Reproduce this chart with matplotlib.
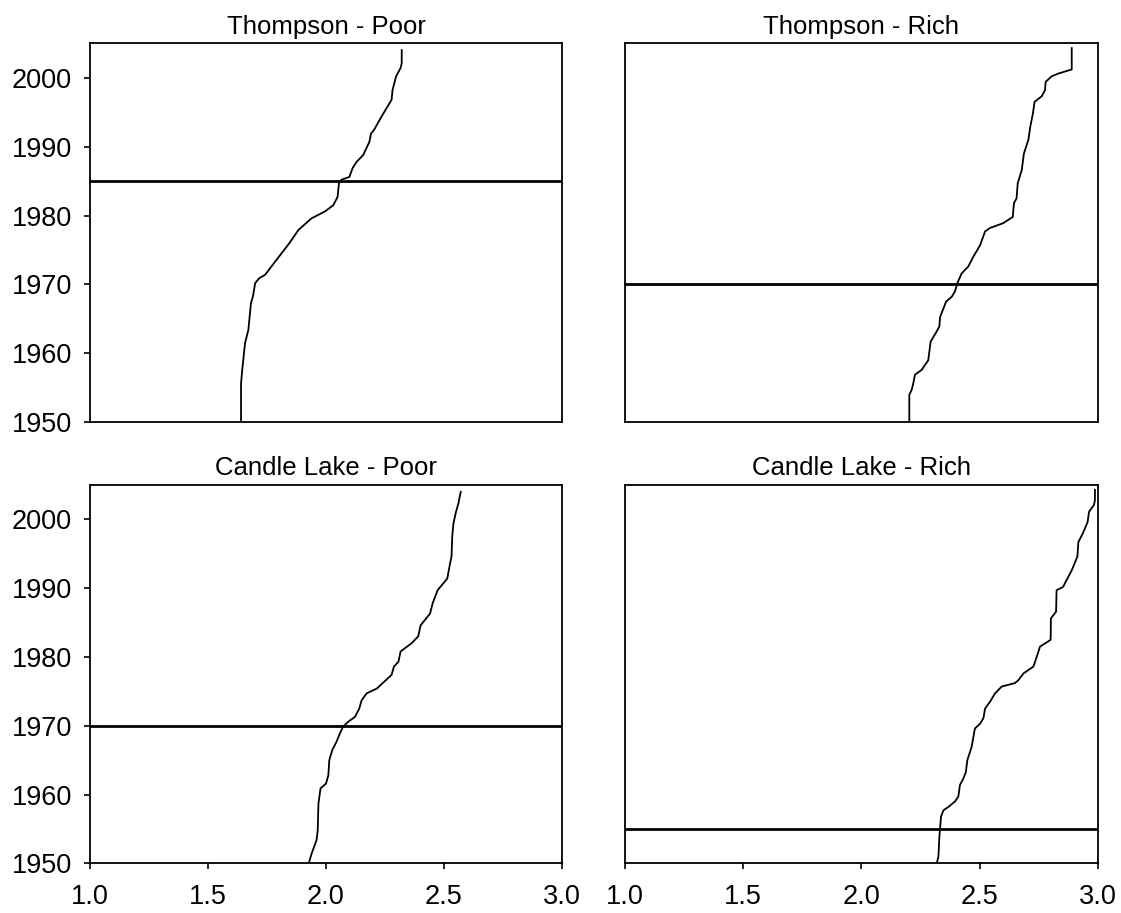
import numpy as np
import matplotlib.pyplot as plt

plt.rcParams['font.family'] = ['Liberation Sans', 'DejaVu Sans']

# Thompson - Poor
tp_year = [1950, 1955.6, 1957.6, 1961.5, 1963.4, 1967.3, 1968.2, 1970.2, 1970.9, 1971.4,
           1973.6, 1976.0, 1977.9, 1979.6, 1980.6, 1981.5, 1982.7, 1984.7, 1985.2, 1985.6,
           1986.9, 1987.8, 1988.8, 1990.7, 1991.9, 1992.4, 1994.4, 1996.8, 1998.2, 2000.2,
           2001.4, 2002.1, 2004.0]
tp_val = [1.640, 1.640, 1.645, 1.657, 1.671, 1.682, 1.690, 1.700, 1.717, 1.742,
          1.791, 1.845, 1.883, 1.939, 1.996, 2.031, 2.049, 2.055, 2.066, 2.099,
          2.113, 2.130, 2.158, 2.184, 2.191, 2.203, 2.236, 2.278, 2.282, 2.297,
          2.316, 2.321, 2.321]

# Thompson - Rich
tr_year = [1950, 1954.0, 1954.7, 1955.7, 1956.9, 1957.6, 1959.0, 1961.7, 1963.2, 1963.9,
           1965.3, 1966.5, 1967.5, 1968.2, 1969.0, 1970.2, 1971.6, 1972.6, 1974.0, 1975.7,
           1977.7, 1978.2, 1978.9, 1979.8, 1981.8, 1982.5, 1984.7, 1986.6, 1989.0, 1991.0,
           1992.9, 1994.8, 1996.5, 1997.3, 1998.2, 1999.4, 2000.2, 2000.6, 2001.2, 2004.3]
tr_val = [2.202, 2.202, 2.212, 2.219, 2.226, 2.254, 2.282, 2.292, 2.318, 2.329,
          2.332, 2.346, 2.357, 2.381, 2.395, 2.405, 2.423, 2.451, 2.472, 2.501,
          2.522, 2.543, 2.599, 2.639, 2.644, 2.655, 2.660, 2.677, 2.686, 2.705,
          2.713, 2.724, 2.731, 2.761, 2.775, 2.778, 2.803, 2.831, 2.888, 2.888]

# Candle Lake - Poor
cp_year = [1950, 1951.4, 1953.4, 1954.8, 1958.7, 1960.9, 1961.6, 1962.8, 1965.0, 1966.5,
           1967.7, 1968.9, 1969.9, 1970.6, 1971.3, 1972.5, 1973.7, 1974.7, 1975.4, 1977.4,
           1978.6, 1979.3, 1980.8, 1982.0, 1983.0, 1984.6, 1986.3, 1987.8, 1989.7, 1991.4,
           1993.1, 1994.6, 1997.5, 1999.4, 2001.1, 2002.3, 2004.0]
cp_val = [1.927, 1.939, 1.960, 1.965, 1.968, 1.977, 2.000, 2.010, 2.014, 2.027,
          2.045, 2.059, 2.073, 2.095, 2.123, 2.141, 2.151, 2.172, 2.215, 2.278,
          2.288, 2.307, 2.316, 2.363, 2.391, 2.401, 2.441, 2.452, 2.473, 2.514,
          2.523, 2.532, 2.535, 2.540, 2.551, 2.561, 2.571]

# Candle Lake - Rich
cr_year = [1950, 1951.0, 1953.9, 1956.8, 1957.7, 1958.2, 1959.0, 1959.7, 1961.4, 1962.3,
           1963.3, 1965.0, 1966.9, 1969.6, 1970.3, 1971.1, 1972.5, 1973.5, 1974.7, 1975.7,
           1976.2, 1976.6, 1977.6, 1978.6, 1980.0, 1981.5, 1982.5, 1985.6, 1986.6, 1989.7,
           1990.2, 1990.7, 1992.6, 1994.6, 1996.7, 1997.9, 1999.6, 2001.1, 2002.1, 2002.8,
           2004.3]
cr_val = [2.318, 2.325, 2.329, 2.336, 2.346, 2.367, 2.395, 2.409, 2.416, 2.430,
          2.441, 2.447, 2.465, 2.479, 2.501, 2.515, 2.522, 2.543, 2.564, 2.592,
          2.648, 2.662, 2.684, 2.726, 2.740, 2.754, 2.799, 2.800, 2.822, 2.824,
          2.852, 2.859, 2.888, 2.912, 2.916, 2.934, 2.955, 2.961, 2.982, 2.986,
          2.986]

titles = ["Thompson - Poor", "Thompson - Rich", "Candle Lake - Poor", "Candle Lake - Rich"]
series = [(tp_val, tp_year), (tr_val, tr_year), (cp_val, cp_year), (cr_val, cr_year)]
breaks = [1985, 1970, 1970, 1955]

fig = plt.figure(figsize=(11.21, 9.13), dpi=100)
boxes = [
    [0.0803, 0.5375, 0.4210, 0.4151],
    [0.5573, 0.5375, 0.4224, 0.4151],
    [0.0803, 0.0544, 0.4210, 0.4144],
    [0.5573, 0.0544, 0.4224, 0.4144],
]

for i, (box, title, (x, y), yb) in enumerate(zip(boxes, titles, series, breaks)):
    ax = fig.add_axes(box)
    ax.plot(x, y, color='black', lw=1.3)
    ax.axhline(yb, color='black', lw=2.0)
    ax.set_xlim(1.0, 3.0)
    ax.set_ylim(1950, 2005)
    ax.set_xticks([1.0, 1.5, 2.0, 2.5, 3.0])
    ax.set_yticks([1950, 1960, 1970, 1980, 1990, 2000])
    ax.set_title(title, fontsize=18.5, pad=7)
    for s in ax.spines.values():
        s.set_linewidth(1.3)
    left = i % 2 == 0
    bottom = i >= 2
    ax.tick_params(axis='y', direction='out', length=4, width=1.2,
                   labelsize=19.5, pad=9, left=left, labelleft=left)
    ax.tick_params(axis='x', direction='out', length=4, width=1.2,
                   labelsize=19.5, pad=11, bottom=bottom, labelbottom=bottom)
    ax.xaxis.set_major_formatter(plt.FormatStrFormatter('%.1f'))

plt.savefig("out.png", dpi=100)
